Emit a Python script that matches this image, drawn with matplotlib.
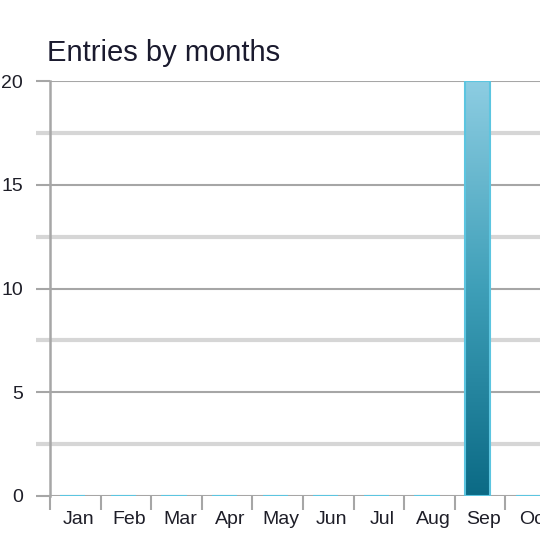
import numpy as np
import matplotlib.pyplot as plt
from matplotlib.colors import LinearSegmentedColormap

months = ["Jan", "Feb", "Mar", "Apr", "May", "Jun", "Jul", "Aug", "Sep", "Oct", "Nov", "Dec"]
entries = [0, 0, 0, 0, 0, 0, 0, 0, 20, 0, 0, 0]

plt.rcParams['font.family'] = ['Liberation Sans', 'DejaVu Sans']

fig = plt.figure(figsize=(5.4, 5.36), dpi=100)
ax = fig.add_axes([50/540, 40/536, 490/540, 415/536])

x = np.arange(len(months))
# bars sit a touch left of the category centre in the original
bars = ax.bar(x - 0.05, entries, width=0.5, color="none", edgecolor="#5cc5e0", linewidth=1.5, zorder=3)

# vertical gradient inside each bar (dark at the bottom, light at the top)
grad_cmap = LinearSegmentedColormap.from_list("bar", ["#0b6a85", "#3e9fb8", "#8dcde2"])
grad = np.linspace(0, 1, 256).reshape(-1, 1)
for b in bars:
    if b.get_height() <= 0:
        continue
    im = ax.imshow(grad, cmap=grad_cmap, origin="lower", aspect="auto",
                   extent=[b.get_x(), b.get_x() + b.get_width(), 0, b.get_height()], zorder=2)
    im.set_clip_path(b)

# y axis: major and minor gridlines, both reaching past the axis
ax.set_yticks([0, 5, 10, 15, 20])
ax.set_yticks([2.5, 7.5, 12.5, 17.5], minor=True)
ax.yaxis.grid(True, which="major", color="#a6a6a6", linewidth=1.5, zorder=0)
ax.yaxis.grid(True, which="minor", color="#d6d6d6", linewidth=3, zorder=0)
ax.tick_params(axis="y", which="major", length=10, width=1.5, color="#a6a6a6",
               labelsize=14, pad=9.5, labelcolor="#1e1e28")
ax.tick_params(axis="y", which="minor", length=10, width=3, color="#d6d6d6")

# x axis: labels centred (slightly right), ticks on category boundaries
ax.set_xticks(x + 0.07)
ax.set_xticklabels(months)
ax.set_xticks(np.arange(len(months) + 1) - 0.5, minor=True)
ax.tick_params(axis="x", which="major", length=0, labelsize=14, pad=10.5, labelcolor="#1e1e28")
ax.tick_params(axis="x", which="minor", length=10, width=1.5, color="#a6a6a6")

# the original is cut off on the right, part way through October
ax.set_xlim(-0.5, -0.5 + 490/50.6)
ax.set_ylim(0, 20)

for s in ["top", "right", "bottom"]:
    ax.spines[s].set_visible(False)
ax.spines["left"].set_color("#a6a6a6")
ax.spines["left"].set_linewidth(1.8)
ax.spines["left"].set_zorder(4)
ax.set_axisbelow(True)

fig.text(47/540, 1 - 61/536, "Entries by months", fontsize=21, color="#1a1a2e",
         ha="left", va="baseline")

fig.savefig("out.png", dpi=100)
